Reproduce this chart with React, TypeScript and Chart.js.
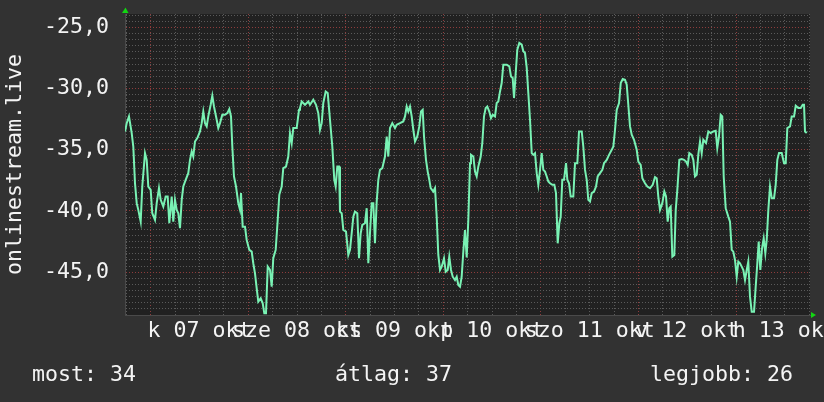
import React, { useEffect, useRef } from 'react';
import { Chart, registerables } from 'chart.js';

Chart.register(...registerables);

// ---- data (hours since 2025-10-06 00:00) ----
const hours = [
  17.7, 18.1, 18.66, 19.33, 19.72, 20.14, 20.56, 20.95, 21.54, 21.93, 22.6, 23.02, 23.41, 24.0, 24.39, 25.06,
  25.48, 26.04, 26.46, 27.1, 27.69, 28.18, 28.58, 29.17, 29.56, 29.98, 30.4, 30.79, 31.21, 31.63, 32.02, 32.61,
  33.25, 33.67, 34.09, 34.48, 34.9, 35.47, 36.13, 36.55, 36.94, 37.36, 37.78, 38.17, 38.76, 39.16, 39.57, 40.24,
  40.63, 41.05, 41.62, 42.28, 42.85, 43.34, 43.76, 44.08, 44.49, 44.99, 45.55, 45.97, 46.22, 46.63, 47.2, 47.62,
  48.26, 48.85, 49.24, 49.66, 50.08, 50.47, 51.06, 51.56, 51.95, 52.37, 52.79, 53.35, 53.77, 54.16, 54.75, 55.25,
  55.64, 56.23, 56.62, 57.29, 57.85, 58.27, 58.69, 59.08, 59.92, 60.49, 60.73, 61.15, 61.96, 62.77, 63.19, 64.0,
  64.67, 65.23, 65.65, 66.07, 66.46, 67.05, 67.55, 68.11, 68.68, 69.17, 69.51, 69.91, 70.33, 70.57, 70.99, 71.39,
  72.05, 72.62, 73.03, 73.45, 73.85, 74.26, 74.83, 75.25, 75.66, 76.06, 76.72, 77.14, 77.54, 77.95, 78.37, 78.77,
  79.18, 79.6, 80.0, 80.41, 80.98, 81.64, 82.06, 82.46, 82.87, 83.44, 84.1, 84.52, 85.33, 86.15, 86.57, 86.98,
  87.37, 87.8, 88.21, 88.61, 89.03, 89.59, 90.08, 90.5, 90.92, 91.24, 91.73, 92.15, 92.54, 92.89, 93.53, 93.95,
  94.36, 94.76, 95.18, 95.59, 96.16, 96.58, 97.07, 97.46, 97.88, 98.3, 98.86, 99.28, 99.68, 100.1, 100.51, 100.91,
  101.32, 101.74, 102.14, 102.56, 102.8, 103.37, 103.79, 104.2, 104.6, 105.19, 105.58, 106.0, 106.42, 106.81, 107.3, 107.72,
  108.14, 108.71, 109.12, 109.52, 109.94, 110.35, 110.75, 111.59, 112.23, 112.64, 113.06, 113.38, 113.8, 114.19, 114.69, 115.28,
  115.67, 116.09, 116.51, 116.9, 117.32, 117.74, 118.13, 118.55, 118.97, 119.36, 119.78, 120.19, 120.59, 121.01, 121.43, 121.82,
  122.24, 122.8, 123.3, 123.71, 124.13, 124.53, 124.87, 125.26, 125.68, 126.18, 126.5, 126.91, 127.33, 127.97, 128.39, 128.96,
  129.37, 130.04, 130.43, 130.85, 131.27, 131.66, 132.08, 132.5, 133.06, 133.56, 133.97, 134.54, 135.11, 135.53, 136.19, 136.76,
  137.42, 137.82, 138.23, 138.65, 139.22, 139.64, 140.13, 140.69, 141.11, 141.5, 141.92, 142.34, 142.91, 143.57, 143.97, 144.55,
  144.95, 145.61, 146.18, 146.84, 147.5, 148.07, 148.49, 148.88, 149.3, 149.87, 150.36, 150.78, 151.19, 151.59, 151.93, 152.33,
  152.82, 153.17, 153.56, 154.05, 154.64, 155.21, 155.7, 156.12, 156.51, 157.1, 157.5, 157.91, 158.33, 158.72, 159.14, 159.56,
  159.95, 160.62, 161.19, 161.77, 162.41, 163.0, 163.39, 163.81, 164.23, 164.62, 164.97, 165.46, 166.1, 166.52, 166.94, 167.33,
  167.75, 168.17, 168.56, 168.98, 169.4, 169.8, 170.21, 170.63, 171.02, 171.44, 171.86, 172.43, 172.84, 173.24, 173.58, 173.98,
  174.4, 174.81, 175.21, 175.55, 175.95, 176.36, 176.78, 177.35, 177.76, 178.16, 178.58, 179.24, 179.81, 180.23, 180.62, 181.29,
  181.7, 182.27, 182.69, 183.33, 183.92, 184.41, 184.73, 184.97, 185.39,
];

const values = [
  -33.5, -32.82, -32.27, -33.63, -34.73, -37.73, -39.36, -39.91, -40.87, -38.0, -35.27, -35.82, -38.0, -38.27, -40.18, -40.73,
  -39.36, -38.13, -39.09, -39.64, -38.82, -38.82, -41.0, -38.82, -40.87, -39.09, -39.91, -40.18, -41.41, -39.09, -38.0, -37.45,
  -36.91, -35.82, -35.14, -35.55, -34.32, -34.04, -33.5, -32.82, -31.87, -32.82, -33.09, -32.27, -31.32, -30.58, -31.46, -32.54,
  -33.22, -32.82, -32.14, -32.14, -32.0, -31.67, -32.27, -34.73, -37.18, -38.0, -39.36, -39.91, -38.54, -41.28, -41.28, -42.37,
  -43.18, -43.32, -44.27, -45.09, -46.32, -47.41, -47.14, -47.55, -48.36, -48.36, -44.55, -44.82, -46.19, -43.86, -43.18, -40.73,
  -38.68, -38.0, -36.5, -36.37, -35.55, -33.63, -34.45, -33.22, -33.22, -31.73, -31.59, -31.05, -31.32, -31.05, -31.32, -30.91,
  -31.32, -32.0, -33.36, -32.82, -31.18, -30.23, -30.36, -32.54, -34.73, -37.45, -38.0, -36.37, -36.37, -40.05, -40.18, -41.55,
  -41.69, -43.59, -43.18, -41.82, -40.46, -40.05, -40.18, -43.86, -41.82, -41.14, -41.0, -39.77, -44.27, -41.82, -39.36, -39.36,
  -42.64, -39.23, -37.45, -36.64, -36.5, -35.55, -33.91, -35.55, -33.22, -32.82, -33.22, -32.95, -32.82, -32.68, -32.27, -31.46,
  -31.87, -31.46, -32.27, -33.36, -34.32, -33.91, -33.09, -31.87, -31.73, -33.91, -35.82, -36.78, -37.45, -38.13, -38.41, -38.13,
  -40.46, -43.59, -44.82, -44.55, -43.86, -44.96, -44.82, -43.73, -44.82, -45.37, -45.64, -45.37, -46.05, -46.19, -45.37, -43.32,
  -41.55, -43.8, -40.73, -36.09, -35.41, -35.55, -36.78, -37.18, -36.37, -35.55, -34.45, -32.27, -31.59, -31.46, -31.87, -32.41,
  -32.14, -32.27, -31.18, -31.05, -30.23, -29.54, -28.04, -28.04, -28.18, -29.0, -29.13, -30.77, -28.72, -26.82, -26.27, -26.41,
  -26.95, -27.09, -28.31, -30.36, -32.54, -35.27, -35.41, -35.27, -36.91, -37.86, -36.64, -35.27, -36.64, -36.78, -37.18, -37.59,
  -37.73, -37.86, -37.86, -38.54, -42.64, -41.0, -40.46, -37.45, -37.45, -36.09, -37.45, -37.73, -38.82, -38.82, -36.09, -36.09,
  -33.5, -33.5, -34.73, -36.64, -37.45, -39.09, -39.23, -38.54, -38.41, -38.0, -37.18, -36.91, -36.64, -36.09, -35.82, -35.41,
  -35.0, -34.73, -33.36, -31.73, -31.18, -29.54, -29.21, -29.27, -29.68, -31.32, -33.09, -33.77, -34.18, -35.0, -35.96, -36.23,
  -37.32, -37.73, -38.0, -38.13, -37.86, -37.23, -37.32, -38.82, -39.91, -39.36, -38.41, -38.82, -40.87, -39.77, -39.64, -43.73,
  -43.59, -39.91, -38.27, -35.82, -35.76, -35.82, -35.96, -36.23, -35.27, -35.41, -35.82, -37.18, -37.05, -35.41, -34.32, -35.27,
  -34.18, -34.45, -33.5, -33.63, -33.5, -33.45, -34.86, -33.91, -32.14, -32.27, -37.18, -39.77, -40.46, -40.87, -43.18, -43.32,
  -44.0, -45.37, -44.14, -44.27, -44.55, -44.82, -45.64, -44.82, -44.14, -47.0, -48.23, -48.23, -46.19, -44.27, -42.5, -44.82,
  -43.05, -42.23, -43.45, -42.37, -39.91, -38.0, -38.95, -38.95, -37.86, -35.82, -35.27, -35.27, -36.09, -36.09, -33.22, -33.09,
  -32.27, -32.27, -31.4, -31.59, -31.59, -31.32, -31.32, -33.5, -33.63,
];

const dayTickHours = [36, 60, 84, 108, 132, 156, 180];
const dayTickLabels = ['k 07 okt', 'sze 08 okt', 'cs 09 okt', 'p 10 okt', 'szo 11 okt', 'v 12 okt', 'h 13 okt'];
const seriesName = 'onlinestream.live';
const statNames = ['most', 'átlag', 'legjobb'];
const statValues = [34, 37, 26];

const X_MIN = 17.68;
const X_MAX = 186.2;
const Y_MIN = -48.5;
const Y_MAX = -23.9;

const FONT_FAMILY = '"DejaVu Sans Mono", monospace';
const FONT_SIZE = 21.6;
const TEXT = '#f4f4f4';
const BG = '#323232';
const PLOT_BG = '#212121';
const GRID = '#5a5a5a';
const GRID_MAJOR = '#8e3c3c';
const LINE = '#79f2b4';
const ARROW = '#12d612';

const bgPlugin = {
  id: 'bgPlugin',
  beforeDraw(chart: any) {
    const { ctx, chartArea } = chart;
    ctx.save();
    ctx.fillStyle = BG;
    ctx.fillRect(0, 0, chart.width, chart.height);
    ctx.fillStyle = PLOT_BG;
    ctx.fillRect(chartArea.left, chartArea.top, chartArea.right - chartArea.left, chartArea.bottom - chartArea.top);
    ctx.restore();
  },
};

const decorPlugin = {
  id: 'decorPlugin',
  afterDraw(chart: any) {
    const { ctx, chartArea } = chart;
    ctx.save();
    // axis arrows
    ctx.fillStyle = ARROW;
    ctx.beginPath();
    ctx.moveTo(chartArea.left - 3, chartArea.top - 1);
    ctx.lineTo(chartArea.left + 3.5, chartArea.top - 1);
    ctx.lineTo(chartArea.left + 0.5, chartArea.top - 6.5);
    ctx.closePath();
    ctx.fill();
    ctx.beginPath();
    ctx.moveTo(chartArea.right + 1, chartArea.bottom - 3);
    ctx.lineTo(chartArea.right + 1, chartArea.bottom + 3);
    ctx.lineTo(chartArea.right + 6, chartArea.bottom);
    ctx.closePath();
    ctx.fill();
    // summary line
    ctx.fillStyle = TEXT;
    ctx.font = `${FONT_SIZE}px ${FONT_FAMILY}`;
    ctx.textBaseline = 'alphabetic';
    ctx.textAlign = 'left';
    const xs = [32, 335, 650];
    statNames.forEach((n, i) => {
      ctx.fillText(`${n}: ${statValues[i]}`, xs[i], 381);
    });
    ctx.restore();
  },
};

export default function App() {
  const ref = useRef<HTMLCanvasElement>(null);

  useEffect(() => {
    document.body.style.margin = '0';
    document.body.style.background = BG;
    const canvas = ref.current;
    if (!canvas) return;
    const font = { family: FONT_FAMILY, size: FONT_SIZE, lineHeight: 1.2 };
    const chart = new Chart(canvas, {
      type: 'line',
      data: {
        datasets: [
          {
            label: seriesName,
            data: hours.map((h, i) => ({ x: h, y: values[i] })),
            borderColor: LINE,
            borderWidth: 2,
            pointRadius: 0,
            tension: 0,
            fill: false,
          },
        ],
      },
      options: {
        animation: false,
        responsive: false,
        maintainAspectRatio: false,
        events: [],
        layout: { padding: { top: 14, right: 14, left: 0, bottom: 0 } },
        plugins: { legend: { display: false }, tooltip: { enabled: false } },
        scales: {
          x: {
            type: 'linear',
            min: X_MIN,
            max: X_MAX,
            afterBuildTicks: (s: any) => {
              const t: any[] = [];
              for (let h = 18; h <= 186; h += 6) t.push({ value: h });
              s.ticks = t;
            },
            afterFit: (s: any) => {
              s.height = 87;
              s.paddingLeft = 0;
              s.paddingRight = 0;
            },
            ticks: {
              autoSkip: false,
              maxRotation: 0,
              minRotation: 0,
              padding: 3,
              color: TEXT,
              font,
              callback: (v: any) => {
                const i = dayTickHours.indexOf(Number(v));
                return i >= 0 ? dayTickLabels[i] : '';
              },
            },
            grid: {
              color: (c: any) => (c.tick && c.tick.value % 24 === 0 ? GRID_MAJOR : GRID),
              lineWidth: 1,
              drawTicks: false,
            },
            border: { display: true, color: '#4a4a4a', dash: [1, 2] },
          },
          y: {
            type: 'linear',
            min: Y_MIN,
            max: Y_MAX,
            afterBuildTicks: (s: any) => {
              const t: any[] = [];
              for (let k = -97; k <= -48; k++) t.push({ value: k / 2 });
              s.ticks = t;
            },
            afterFit: (s: any) => {
              s.width = 125;
              s.paddingTop = 0;
              s.paddingBottom = 0;
            },
            ticks: {
              autoSkip: false,
              padding: 16,
              color: TEXT,
              font,
              callback: (v: any) => {
                const n = Number(v);
                return Math.abs(n % 5) < 1e-6 ? n.toFixed(1).replace('.', ',') : '';
              },
            },
            grid: {
              color: (c: any) => (c.tick && Math.abs(c.tick.value % 5) < 1e-6 ? GRID_MAJOR : GRID),
              lineWidth: 1,
              drawTicks: false,
            },
            border: { display: true, color: '#4a4a4a', dash: [1, 2] },
            title: {
              display: true,
              text: seriesName,
              color: TEXT,
              font,
              padding: { top: 2, bottom: 0 },
            },
          },
        },
      },
      plugins: [bgPlugin, decorPlugin],
    } as any);
    return () => chart.destroy();
  }, []);

  return <canvas ref={ref} width={824} height={402} style={{ display: 'block' }} />;
}
